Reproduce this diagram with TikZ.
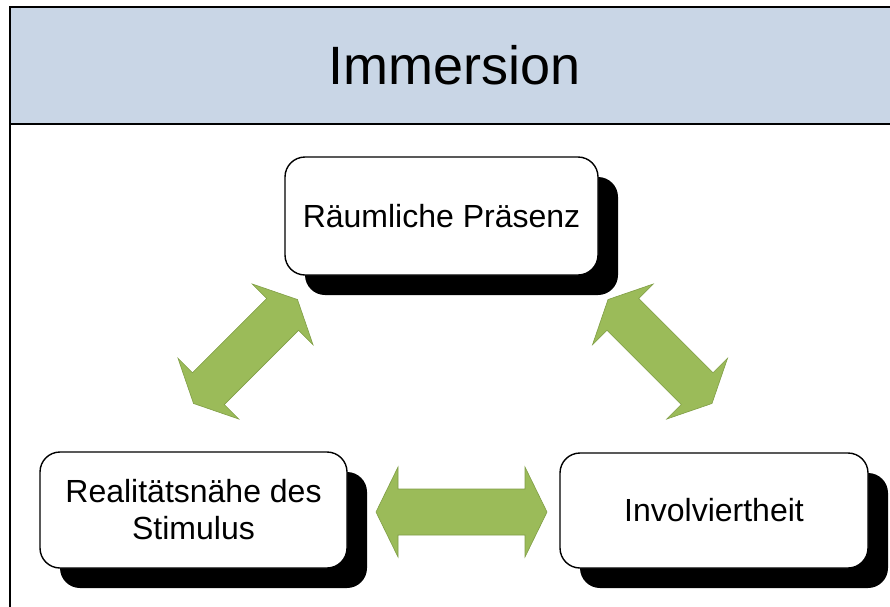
\documentclass[tikz,border=0pt]{standalone}
\usepackage{fontspec}
\setmainfont{Liberation Sans}
\usetikzlibrary{shadows}
\definecolor{headblue}{RGB}{201,214,230}
\definecolor{arrgreen}{RGB}{155,187,89}
\definecolor{arrline}{RGB}{128,158,70}
\newcommand\GreenDArrow[4]{%
  \filldraw[greenarr] (-#1/2,0) -- (-#1/2+#2,#3) -- (-#1/2+#2,#4) -- (#1/2-#2,#4) -- (#1/2-#2,#3) -- (#1/2,0)
   -- (#1/2-#2,-#3) -- (#1/2-#2,-#4) -- (-#1/2+#2,-#4) -- (-#1/2+#2,-#3) -- cycle;}
\tikzset{
  boxnode/.style={draw=black, line width=1.4pt, fill=white, rounded corners=20pt,
    inner sep=0pt, align=center, font=\fontsize{32}{37}\selectfont,
    drop shadow={shadow xshift=20pt, shadow yshift=-20pt, fill=black, opacity=1}},
  greenarr/.style={fill=arrgreen, draw=arrline, line width=0.6pt, line join=miter},
  frameline/.style={draw=black, line width=2.6pt}
}
\begin{document}
\begin{tikzpicture}[x=1pt,y=-1pt]
\useasboundingbox (0,0) rectangle (890,606);
\fill[white] (0,0) rectangle (890,606);
% header band and frame
\fill[headblue] (10,7) rectangle (896,124);
\draw[frameline] (10,612) -- (10,7) -- (896,7);
\draw[frameline] (10,124) -- (896,124);
\node[font=\fontsize{54}{60}\selectfont] (title) at (455,65) {Immersion};
% boxes
\node[boxnode, minimum width=313pt, minimum height=118pt] (top) at (441.5,216) {Räumliche Präsenz};
\node[boxnode, minimum width=307pt, minimum height=116pt] (left) at (193.5,510) {Realitätsnähe des\\Stimulus};
\node[boxnode, minimum width=308pt, minimum height=115pt] (right) at (714,510.5) {Involviertheit};
% green double arrows
\coordinate (aL) at (245.5,351.5);
\coordinate (aR) at (660,351.5);
\coordinate (aB) at (461.5,512);
\begin{scope}[shift={(aL)}, rotate=45]\GreenDArrow{147}{21}{43}{22.5}\end{scope}
\begin{scope}[shift={(aR)}, rotate=-45]\GreenDArrow{147}{21}{43}{22.5}\end{scope}
\begin{scope}[shift={(aB)}]\GreenDArrow{171}{22}{45}{23}\end{scope}
\end{tikzpicture}
\end{document}
